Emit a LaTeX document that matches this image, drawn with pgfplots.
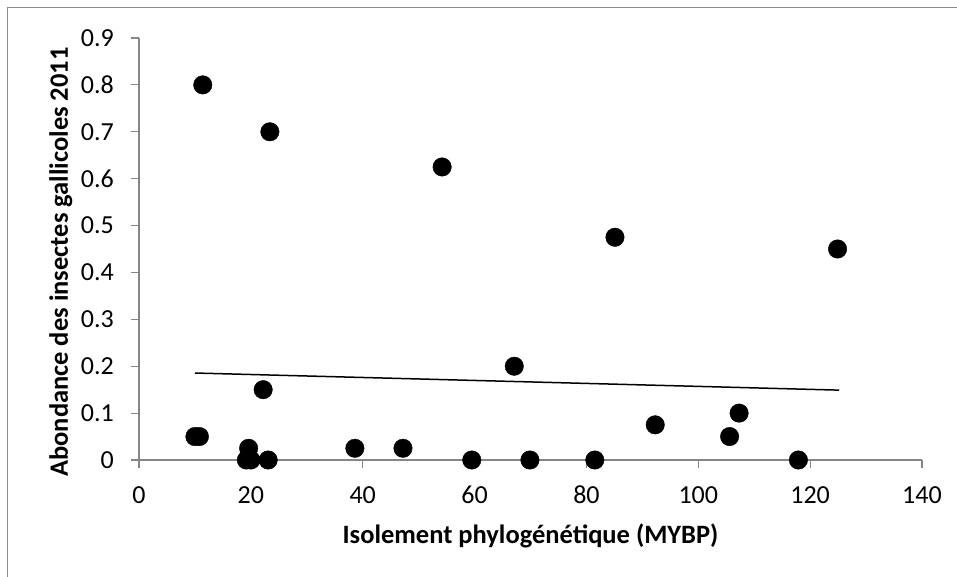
\documentclass[border=0pt]{standalone}
\usepackage{fontspec}
\setmainfont{Carlito}
\usepackage{pgfplots}
\pgfplotsset{compat=1.18}
\definecolor{axisgray}{HTML}{868686}
\definecolor{framegray}{HTML}{8C8C8C}
\begin{document}
\begin{tikzpicture}
\useasboundingbox (0,0) rectangle (957bp,577bp);
\draw[framegray, line width=1.2bp] (7.5bp,-10bp) -- (7.5bp,569.5bp) -- (970bp,569.5bp);
\begin{axis}[
  at={(139bp,117bp)}, anchor=south west,
  scale only axis, width=783bp, height=422bp,
  xmin=0, xmax=140, ymin=0, ymax=0.9,
  axis x line*=bottom, axis y line*=left,
  axis line style={draw=axisgray, line width=1.2bp, -},
  tick style={draw=axisgray, line width=1.2bp},
  tick align=outside, major tick length=8bp,
  xtick={0,20,...,140},
  ytick={0,0.1,0.2,0.3,0.4,0.5,0.6,0.7,0.8,0.9},
  /pgf/number format/fixed,
  /pgf/number format/precision=1,
  /pgf/number format/assume math mode=true,
  ticklabel style={font=\fontsize{26bp}{30bp}\selectfont, inner sep=0pt},
  yticklabel style={xshift=-17bp},
  xticklabel style={yshift=-18bp},
  label style={font=\fontsize{26.5bp}{30bp}\selectfont\bfseries},
  xlabel={Isolement phylogénétique (MYBP)},
  ylabel={Abondance des insectes gallicoles 2011},
  xlabel style={at={(axis description cs:0.5,-0.1967)}, anchor=base},
  ylabel style={at={(axis description cs:-0.0907,0.469)}, anchor=base},
  clip=false,
]
\addplot[only marks, mark=*, mark size=9.25bp, black] coordinates {
  (10.0,0.05) (10.8,0.05) (11.4,0.8) (19.2,0) (20.0,0) (19.6,0.025)
  (22.2,0.15) (23.1,0) (23.4,0.7) (38.6,0.025) (47.2,0.025) (54.2,0.625)
  (59.5,0) (67.1,0.2) (69.9,0) (81.5,0) (85.1,0.475) (92.3,0.075)
  (105.6,0.05) (107.3,0.1) (117.9,0) (124.9,0.45)
};
\addplot[black, line width=1.5bp] coordinates {(10.0,0.1855) (125.2,0.149)};
\end{axis}
\end{tikzpicture}
\end{document}
